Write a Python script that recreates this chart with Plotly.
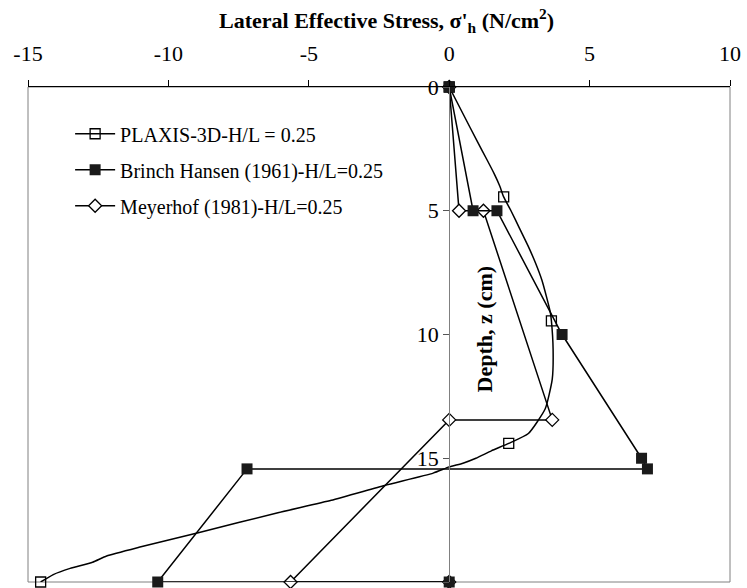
import plotly.graph_objects as go

# PLAXIS-3D computed profile (dense curve) and its marked points
plaxis_curve_x = [0, 0.5, 1.0, 1.35, 1.6, 1.8, 1.94, 2.2, 2.5, 2.8, 3.07, 3.3, 3.47, 3.6,
                  3.64, 3.7, 3.67, 3.42, 2.82, 2.12, 1.5, 0.95, 0.49, 0, -0.57, -2.3,
                  -4.2, -6.1, -8.9, -11.05, -12.2, -12.7, -13.5, -14.1, -14.55]
plaxis_curve_z = [0, 1.1, 2.2, 2.95, 3.5, 4.0, 4.44, 5.0, 5.7, 6.4, 7.1, 7.8, 8.5, 9.1,
                  9.45, 10.6, 11.8, 13.0, 14.0, 14.4, 14.7, 15.0, 15.2, 15.35, 15.6, 16.1,
                  16.7, 17.2, 18.0, 18.6, 18.95, 19.2, 19.45, 19.7, 20.0]
plaxis_mark_x = [0, 1.94, 3.64, 2.12, -14.55]
plaxis_mark_z = [0, 4.44, 9.45, 14.4, 20.0]

# Brinch Hansen (1961)
hansen_x = [0, 0.85, 1.7, 4.02, 6.85, 7.06, -7.2, -10.38, 0]
hansen_z = [0, 5.0, 5.0, 10.0, 15.0, 15.43, 15.43, 20.0, 20.0]

# Meyerhof (1981)
meyerhof_x = [0, 0.35, 1.22, 3.67, 0, -5.65, 0]
meyerhof_z = [0, 5.0, 5.0, 13.45, 13.45, 20.0, 20.0]

x_ticks = [-15, -10, -5, 0, 5, 10]
x_tick_text = ["-15", "-10", "-5", "0", "5", "10"]
z_ticks = [0, 5, 10, 15, 20]
x_range = [-15, 10]
z_range = [20, 0]

labels = ["PLAXIS-3D-H/L = 0.25", "Brinch Hansen (1961)-H/L=0.25", "Meyerhof (1981)-H/L=0.25"]

FONT = "Liberation Serif"
LINE = dict(color="black", width=1.5)

fig = go.Figure()

# PLAXIS curve and markers
fig.add_trace(go.Scatter(x=plaxis_curve_x, y=plaxis_curve_z, mode="lines",
                         line=dict(color="black", width=1.5, shape="spline", smoothing=0.5),
                         showlegend=False, cliponaxis=False, hoverinfo="skip"))
fig.add_trace(go.Scatter(x=plaxis_mark_x, y=plaxis_mark_z, mode="markers",
                         marker=dict(symbol="square-open", size=10, color="black",
                                     line=dict(width=1.3)),
                         showlegend=False, cliponaxis=False))

# Meyerhof
fig.add_trace(go.Scatter(x=meyerhof_x, y=meyerhof_z, mode="lines+markers", line=LINE,
                         marker=dict(symbol="diamond", size=10, color="white",
                                     line=dict(color="black", width=1.3)),
                         showlegend=False, cliponaxis=False))

# Brinch Hansen
fig.add_trace(go.Scatter(x=hansen_x, y=hansen_z, mode="lines+markers", line=LINE,
                         marker=dict(symbol="square", size=11, color="#1a1a1a",
                                     line=dict(width=0)),
                         showlegend=False, cliponaxis=False))

# legend entries
legend_markers = [
    dict(symbol="square-open", size=10, color="black", line=dict(width=1.3)),
    dict(symbol="square", size=11, color="#1a1a1a", line=dict(width=0)),
    dict(symbol="diamond", size=10, color="white", line=dict(color="black", width=1.3)),
]
for i, (name, mk) in enumerate(zip(labels, legend_markers)):
    fig.add_trace(go.Scatter(x=[None], y=[None], mode="lines+markers", name=name,
                             line=LINE, marker=mk, legendgroup=f"g{i}"))

y_pos = (0 - x_range[0]) / (x_range[1] - x_range[0])

fig.update_layout(
    width=747, height=588,
    margin=dict(l=28, r=10, t=87, b=6),
    paper_bgcolor="white", plot_bgcolor="white",
    font=dict(family=FONT, size=20, color="black"),
    showlegend=True,
    legend=dict(x=0.06, y=0.945, xanchor="left", yanchor="top",
                bgcolor="rgba(0,0,0,0)", font=dict(family=FONT, size=20),
                tracegroupgap=7, itemwidth=40),
    xaxis=dict(range=x_range, side="top", tickvals=x_ticks, ticktext=x_tick_text,
               ticks="outside", ticklen=6, tickcolor="black", showline=True,
               linecolor="black", linewidth=1.2, showgrid=False, zeroline=False,
               ticklabelstandoff=10, ticklabeloverflow="allow",
               tickfont=dict(family=FONT, size=22)),
    yaxis=dict(range=z_range, tickvals=z_ticks, ticks="outside", ticklen=6,
               tickcolor="#555555", anchor="free", position=y_pos, showline=True,
               linecolor="#808080", linewidth=1, showgrid=False, zeroline=False,
               tickfont=dict(family=FONT, size=22)),
    shapes=[dict(type="rect", xref="paper", yref="paper", x0=0, x1=1, y0=0, y1=1,
                 line=dict(color="#808080", width=1), layer="below")],
    annotations=[
        dict(text="<b>Lateral Effective Stress, σ'<sub>h</sub> (N/cm<sup>2</sup>)</b>",
             xref="paper", yref="paper", x=0.51, y=1.135, xanchor="center",
             yanchor="middle", showarrow=False, font=dict(family=FONT, size=22)),
        dict(text="<b>Depth, z (cm)</b>", xref="x", yref="y", x=1.27, y=9.8,
             textangle=-90, showarrow=False, font=dict(family=FONT, size=22)),
    ],
)

fig.write_html("out.html")
